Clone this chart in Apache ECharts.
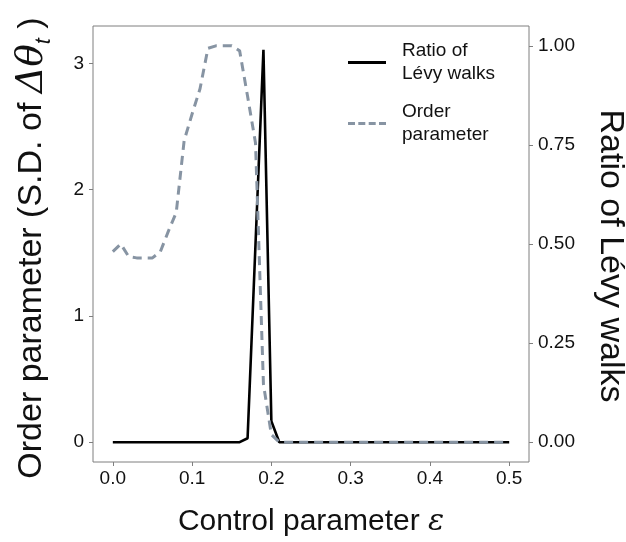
<!DOCTYPE html>
<html>
<head>
<meta charset="utf-8">
<script src="https://cdn.jsdelivr.net/npm/echarts@6/dist/echarts.min.js"></script>
<style>html,body{margin:0;padding:0;background:#fff}#c{width:626px;height:542px}</style>
</head>
<body>
<div id="c"></div>
<script>
// Control parameter epsilon (x values)
const epsilon = [0.00,0.01,0.02,0.03,0.04,0.05,0.06,0.07,0.08,0.09,
  0.10,0.11,0.12,0.13,0.14,0.15,0.16,0.17,0.18,0.19,
  0.20,0.21,0.22,0.23,0.24,0.25,0.26,0.27,0.28,0.29,
  0.30,0.31,0.32,0.33,0.34,0.35,0.36,0.37,0.38,0.39,
  0.40,0.41,0.42,0.43,0.44,0.45,0.46,0.47,0.48,0.49,0.50];
// Order parameter (left axis)
const orderParam = [1.51,1.57,1.47,1.46,1.46,1.46,1.51,1.67,1.82,2.39,
  2.60,2.80,3.12,3.14,3.14,3.14,3.10,2.74,2.37,0.46,
  0.06,0,0,0,0,0,0,0,0,0,
  0,0,0,0,0,0,0,0,0,0,
  0,0,0,0,0,0,0,0,0,0,0];
// Ratio of Levy walks (right axis)
const levyRatio = [0,0,0,0,0,0,0,0,0,0,
  0,0,0,0,0,0,0,0.01,0.50,0.99,
  0.053,0,0,0,0,0,0,0,0,0,
  0,0,0,0,0,0,0,0,0,0,
  0,0,0,0,0,0,0,0,0,0,0];
const xTicks = [0,0.1,0.2,0.3,0.4,0.5];
const leftTicks = [0,1,2,3];
const rightTicks = [0,0.25,0.5,0.75,1.0];
const seriesNames = ['Ratio of Lévy walks','Order parameter'];

const K = 3.14; // secondary axis scale
const rMin = -0.05, rMax = 1.05;
const FONT = 'Liberation Sans, Arial, Helvetica, sans-serif';
const tickColor = '#7f7f7f';
const txt = '#111';
const dashColor = '#8794a3';

const chart = echarts.init(document.getElementById('c'), null, {renderer:'canvas'});
const legendBase = {
  orient:'vertical', left:348, padding:0, itemWidth:38, itemHeight:3,
  textStyle:{fontFamily:FONT, fontSize:19, color:txt, lineHeight:23, padding:[23,0,0,11]},
  formatter: n => n === seriesNames[0] ? 'Ratio of\nLévy walks' : 'Order\nparameter',
  selectedMode:false
};
const option = {
  animation:false,
  backgroundColor:'#fff',
  grid:{left:93, right:97, top:26, bottom:80, show:true, borderColor:tickColor, borderWidth:1,
    backgroundColor:'transparent', containLabel:false, outerBoundsMode:'none'},
  legend:[
    Object.assign({}, legendBase, {top:28, data:[{name:seriesNames[0], icon:'rect', itemStyle:{color:'#000'}}]}),
    Object.assign({}, legendBase, {top:89, data:[{name:seriesNames[1],
      icon:'path://M0,0h7v3h-7z M10.3,0h7v3h-7z M20.7,0h7v3h-7z M31,0h7v3h-7z', itemStyle:{color:dashColor}}]})
  ],
  xAxis:{
    type:'value', min:-0.025, max:0.525,
    axisLine:{show:false, onZero:false}, splitLine:{show:false},
    axisTick:{show:true, length:4, lineStyle:{color:tickColor}, customValues:xTicks},
    axisLabel:{customValues:xTicks, formatter:v=>v.toFixed(1), fontFamily:FONT, fontSize:19, color:txt, margin:7},
    name:'Control parameter {e|ε}', nameLocation:'middle', nameGap:45,
    nameTextStyle:{fontFamily:FONT, fontSize:30, color:txt,
      rich:{e:{fontFamily:'DejaVu Serif, Liberation Serif, serif', fontStyle:'italic', fontSize:30, color:txt}}}
  },
  yAxis:[
    {
      type:'value', position:'left', min:rMin*K, max:rMax*K,
      axisLine:{show:false, onZero:false}, splitLine:{show:false},
      axisTick:{show:true, length:4, lineStyle:{color:tickColor}, customValues:leftTicks},
      axisLabel:{customValues:leftTicks, formatter:v=>String(Math.round(v)), fontFamily:FONT, fontSize:19, color:txt, margin:9},
      name:'Order parameter (S.D. of {g|Δθ}{s|t} )', nameLocation:'middle', nameGap:38, nameRotate:90,
      nameMoveOverlap:false,
      nameTextStyle:{fontFamily:FONT, fontSize:34, color:txt, lineHeight:46, padding:[0,8,0,0],
        rich:{
          g:{fontFamily:'DejaVu Serif, Liberation Serif, serif', fontStyle:'italic', fontSize:37, color:txt, lineHeight:46},
          s:{fontFamily:FONT, fontStyle:'italic', fontSize:22, color:txt, lineHeight:22, verticalAlign:'bottom'}
        }}
    },
    {
      type:'value', position:'right', min:rMin, max:rMax,
      axisLine:{show:false, onZero:false}, splitLine:{show:false},
      axisTick:{show:true, length:4, lineStyle:{color:tickColor}, customValues:rightTicks},
      axisLabel:{customValues:rightTicks, formatter:v=>v.toFixed(2), fontFamily:FONT, fontSize:19, color:txt, margin:9},
      name:'Ratio of Lévy walks', nameLocation:'middle', nameGap:64, nameRotate:-90,
      nameMoveOverlap:false,
      nameTextStyle:{fontFamily:FONT, fontSize:34, color:txt, padding:[0,0,0,24]}
    }
  ],
  series:[
    {
      name:seriesNames[0], type:'line', yAxisIndex:1, showSymbol:false, symbol:'none',
      data:epsilon.map((x,i)=>[x, levyRatio[i]]),
      lineStyle:{color:'#000', width:2.6}, itemStyle:{color:'#000'}, z:2
    },
    {
      name:seriesNames[1], type:'line', yAxisIndex:0, showSymbol:false, symbol:'none',
      data:epsilon.map((x,i)=>[x, orderParam[i]]),
      lineStyle:{color:dashColor, width:3, type:[9,6]}, itemStyle:{color:dashColor}, z:3
    }
  ]
};
chart.setOption(option);
</script>
</body>
</html>
